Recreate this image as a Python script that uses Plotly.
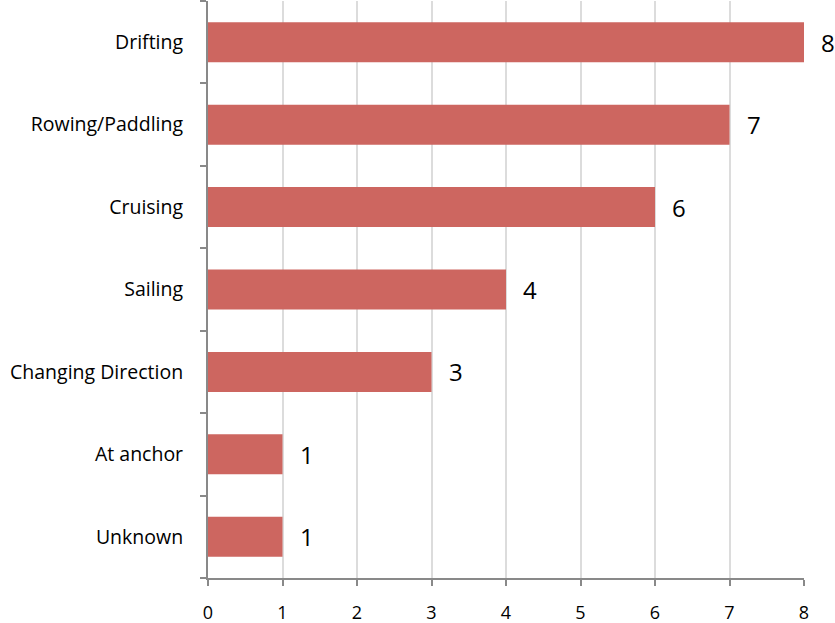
import plotly.graph_objects as go

categories = ["Unknown", "At anchor", "Changing Direction", "Sailing", "Cruising", "Rowing/Paddling", "Drifting"]
values = [1, 1, 3, 4, 6, 7, 8]
x_ticks = [0, 1, 2, 3, 4, 5, 6, 7, 8]

fig = go.Figure(go.Bar(
    y=categories, x=values, orientation="h",
    marker=dict(color="#cd6660", line=dict(width=0)),
))

for c, v in zip(categories, values):
    fig.add_annotation(
        x=v, y=c, text=str(v), showarrow=False,
        xanchor="left", yanchor="middle", xshift=15,
        font=dict(size=24, color="#000000", family="Open Sans"),
    )

fig.update_layout(
    width=835, height=623,
    margin=dict(l=208, r=31, t=1, b=45),
    plot_bgcolor="white", paper_bgcolor="white",
    bargap=0.515,
    showlegend=False,
    font=dict(family="Open Sans", color="#000000"),
)
fig.update_xaxes(
    range=[0, 8], tickvals=x_ticks, showgrid=True, gridcolor="#dcdcdc", gridwidth=2,
    showline=True, linecolor="#898989", linewidth=2,
    ticks="outside", ticklen=6, tickwidth=2, tickcolor="#898989",
    tickfont=dict(size=18), zeroline=False, automargin=False,
    ticklabelstandoff=11,
)
fig.update_yaxes(
    showgrid=False, showline=True, linecolor="#898989", linewidth=2,
    ticks="outside", ticklen=6, tickwidth=2, tickcolor="#898989",
    tickson="boundaries", tickfont=dict(size=19.5), automargin=False,
    ticklabelstandoff=19,
)

fig.write_html("out.html", config={"displayModeBar": False},
               post_script="document.body.style.margin='0px';")
